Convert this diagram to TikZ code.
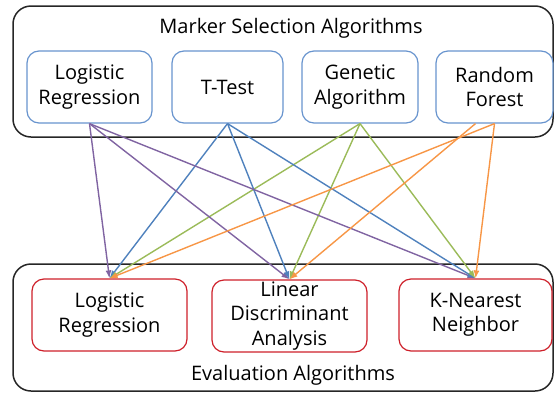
\documentclass[tikz,border=0pt]{standalone}
\usepackage{fontspec}
\setmainfont{Open Sans}
\usetikzlibrary{arrows.meta}
\definecolor{boxblue}{RGB}{104,148,206}
\definecolor{boxred}{RGB}{206,32,42}
\definecolor{lpurple}{RGB}{128,100,162}
\definecolor{lblue}{RGB}{79,129,189}
\definecolor{lgreen}{RGB}{155,187,89}
\definecolor{lorange}{RGB}{247,150,70}
\tikzset{
  groupbox/.style={draw=black!85, line width=1.5pt, rounded corners=18pt},
  selbox/.style={draw=boxblue, line width=1.2pt, rounded corners=12pt, fill=white,
    minimum height=72pt, inner sep=0pt, align=center, font=\fontsize{20}{24.5}\selectfont},
  evalbox/.style={draw=boxred, line width=1.2pt, rounded corners=12pt, fill=white,
    minimum height=72pt, inner sep=0pt, align=center, font=\fontsize{20}{24.5}\selectfont},
  grouptitle/.style={font=\fontsize{20}{24}\selectfont},
  link/.style={line width=1.4pt, -{Latex[length=8pt,width=6pt]}},
}
\begin{document}
\begin{tikzpicture}[x=1pt,y=-1pt]
\useasboundingbox (0,0) rectangle (556,394);

% the two group frames
\draw[groupbox] (13,6) rectangle (553,137);
\draw[groupbox] (13,264) rectangle (553,391);
\node[grouptitle] (seltitle) at (291,28) {Marker Selection Algorithms};
\node[grouptitle] (evaltitle) at (293,375) {Evaluation Algorithms};

% marker selection algorithms
\node[selbox, minimum width=125pt] (slr) at (89.5,87) {Logistic\\Regression};
\node[selbox, minimum width=111pt] (stt) at (227.5,87) {T-Test};
\node[selbox, minimum width=116pt] (sga) at (360,87) {Genetic\\Algorithm};
\node[selbox, minimum width=117pt] (srf) at (494.5,87) {Random\\Forest};

% evaluation algorithms
\node[evalbox, minimum width=155pt] (elr) at (109.5,315) {Logistic\\Regression};
\node[evalbox, minimum width=155pt] (elda) at (289.5,316) {Linear\\Discriminant\\Analysis};
\node[evalbox, minimum width=153pt] (eknn) at (475.5,315) {K-Nearest\\Neighbor};

% every selection method feeds every evaluation method
\coordinate (srfb) at ([xshift=-19pt]srf.south);
\foreach \t in {elr,elda,eknn} {
  \draw[link, lpurple] (slr.south) -- (\t.north);
  \draw[link, lblue] (stt.south) -- (\t.north);
  \draw[link, lgreen] (sga.south) -- (\t.north);
}
\draw[link, lorange] (srf.south) -- (elr.north);
\draw[link, lorange] (srfb) -- (elda.north);
\draw[link, lorange] (srf.south) -- (eknn.north);
\end{tikzpicture}
\end{document}
